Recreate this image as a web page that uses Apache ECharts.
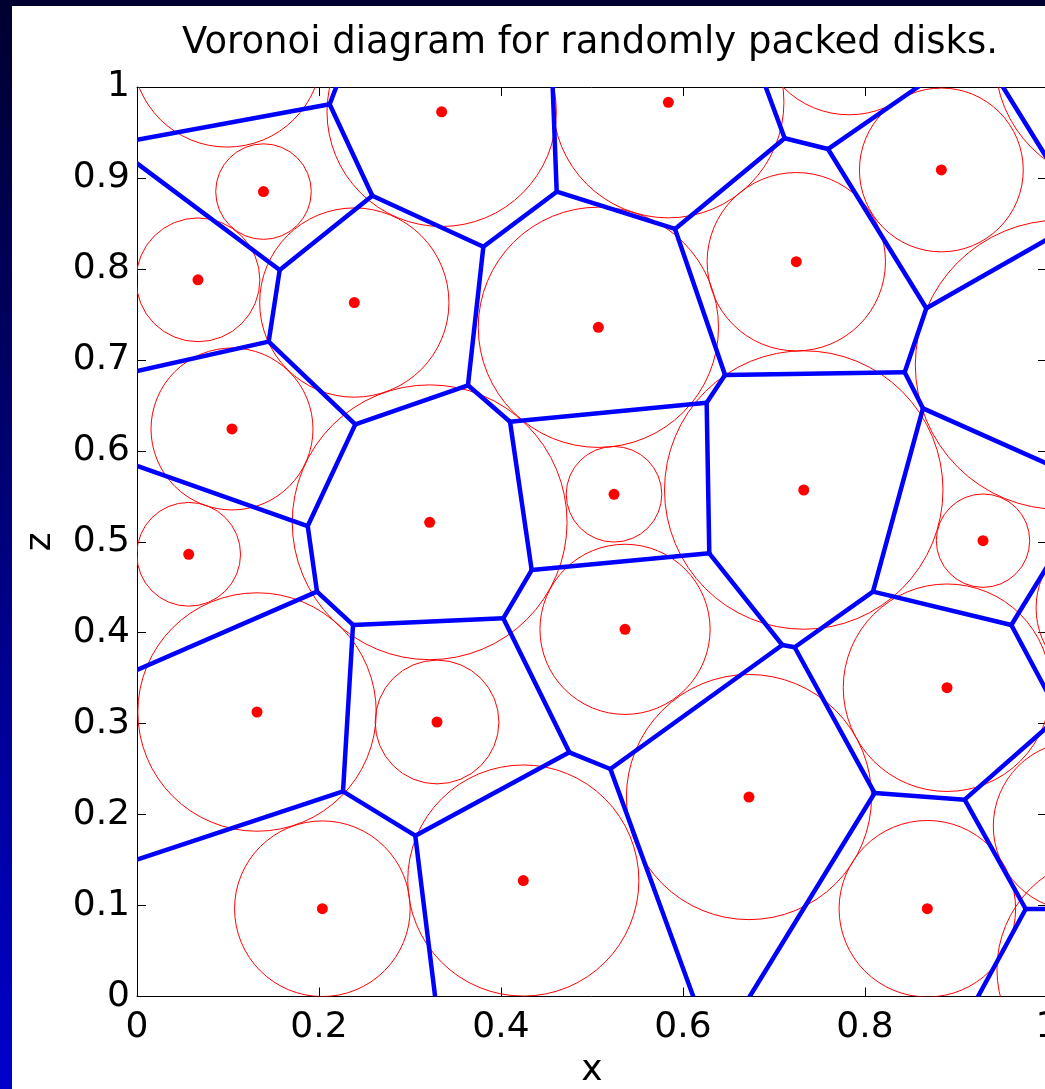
<!DOCTYPE html>
<html>
<head>
<meta charset="utf-8">
<title>Voronoi diagram for randomly packed disks.</title>
<script src="https://cdn.jsdelivr.net/npm/echarts@6/dist/echarts.min.js"></script>
<style>
html, body { margin: 0; padding: 0; }
#main { width: 1045px; height: 1089px; }
</style>
</head>
<body>
<div id="main"></div>
<script>
// disk centres (red dots) and their radii
var diskX = [0.3348, 0.5839, 0.139, 0.8839, 0.067, 0.2388, 0.507, 0.7245, 0.1044, 0.3216, 0.5242,
             0.7327, 0.0568, 0.9297, 0.5363, 0.1319, 0.3297, 0.8901, 0.6725, 0.2037, 0.4245, 0.8685];
var diskZ = [0.9727, 0.9832, 0.885, 0.9088, 0.788, 0.763, 0.7358, 0.8079, 0.624, 0.5214, 0.5522,
             0.5569, 0.4862, 0.5012, 0.4037, 0.3128, 0.3018, 0.3395, 0.2193, 0.0965, 0.1275, 0.0965];
var diskR = [0.126, 0.127, 0.0525, 0.09, 0.068, 0.104, 0.132, 0.098, 0.089, 0.151, 0.0525,
             0.153, 0.057, 0.0513, 0.0935, 0.131, 0.068, 0.114, 0.1347, 0.0965, 0.127, 0.097];

// circles whose centres fall outside the box
var outerX = [0.099, 0.7826, 1.0143, 1.076, 1.034, 1.08, 1.07];
var outerZ = [1.038, 1.0715, 0.6946, 0.4272, 0.1874, 1.03, 0.03];
var outerR = [0.104, 0.102, 0.159, 0.088, 0.093, 0.137, 0.125];

// voronoi edges: x1, z1, x2, z2
var edges = [
  [0, 0.942, 0.2117, 0.981],
  [0.2117, 0.981, 0.219, 1],
  [0.2117, 0.981, 0.2586, 0.8805],
  [0.2586, 0.8805, 0.3806, 0.8244],
  [0.2586, 0.8805, 0.1568, 0.7988],
  [0, 0.916, 0.1568, 0.7988],
  [0.1568, 0.7988, 0.1447, 0.72],
  [0, 0.6877, 0.1447, 0.72],
  [0.1447, 0.72, 0.2399, 0.6291],
  [0.2399, 0.6291, 0.3637, 0.672],
  [0.2399, 0.6291, 0.1876, 0.5173],
  [0, 0.5833, 0.1876, 0.5173],
  [0.1876, 0.5173, 0.1978, 0.4451],
  [0, 0.359, 0.1978, 0.4451],
  [0.1978, 0.4451, 0.2374, 0.4085],
  [0.2374, 0.4085, 0.4025, 0.4158],
  [0.2374, 0.4085, 0.2264, 0.2256],
  [0, 0.1504, 0.2264, 0.2256],
  [0.2264, 0.2256, 0.3058, 0.1768],
  [0.3058, 0.1768, 0.4751, 0.2685],
  [0.3058, 0.1768, 0.3276, 0],
  [0.4751, 0.2685, 0.4025, 0.4158],
  [0.4751, 0.2685, 0.5202, 0.2501],
  [0.5202, 0.2501, 0.7091, 0.3865],
  [0.5202, 0.2501, 0.6113, 0],
  [0.4025, 0.4158, 0.4337, 0.4689],
  [0.4337, 0.4689, 0.4099, 0.632],
  [0.4337, 0.4689, 0.6289, 0.4873],
  [0.4099, 0.632, 0.3637, 0.672],
  [0.4099, 0.632, 0.626, 0.6529],
  [0.3637, 0.672, 0.3806, 0.8244],
  [0.3806, 0.8244, 0.4612, 0.8849],
  [0.4612, 0.8849, 0.4568, 1],
  [0.4612, 0.8849, 0.5912, 0.8439],
  [0.5912, 0.8439, 0.7117, 0.9436],
  [0.5912, 0.8439, 0.6462, 0.6834],
  [0.6462, 0.6834, 0.626, 0.6529],
  [0.6462, 0.6834, 0.8436, 0.6863],
  [0.626, 0.6529, 0.6289, 0.4873],
  [0.6289, 0.4873, 0.7091, 0.3865],
  [0.7091, 0.3865, 0.7227, 0.384],
  [0.7227, 0.384, 0.8088, 0.4451],
  [0.7227, 0.384, 0.8106, 0.2237],
  [0.8088, 0.4451, 0.8637, 0.6467],
  [0.8088, 0.4451, 0.9608, 0.4085],
  [0.8637, 0.6467, 0.8436, 0.6863],
  [0.8637, 0.6467, 1, 0.5859],
  [0.8436, 0.6863, 0.8674, 0.7567],
  [0.8674, 0.7567, 0.7593, 0.9318],
  [0.8674, 0.7567, 1, 0.8323],
  [0.7593, 0.9318, 0.7117, 0.9436],
  [0.7593, 0.9318, 0.8582, 1],
  [0.7117, 0.9436, 0.6909, 1],
  [0.9516, 1, 1, 0.9218],
  [0.9608, 0.4085, 1, 0.4724],
  [0.9608, 0.4085, 1, 0.3352],
  [0.8106, 0.2237, 0.6733, 0],
  [0.8106, 0.2237, 0.9095, 0.2164],
  [0.9095, 0.2164, 1, 0.2961],
  [0.9095, 0.2164, 0.9766, 0.0962],
  [0.9766, 0.0962, 1, 0.0962],
  [0.9766, 0.0962, 0.9242, 0]
];

var font = 'DejaVu Sans';

var circles = [];
for (var i = 0; i < diskX.length; i++) circles.push([diskX[i], diskZ[i], diskR[i]]);
for (var j = 0; j < outerX.length; j++) circles.push([outerX[j], outerZ[j], outerR[j]]);
var dots = diskX.map(function (x, k) { return [x, diskZ[k]]; });

function labelFmt(v) {
  return String(Math.round(v * 10) / 10);
}

var myChart = echarts.init(document.getElementById('main'));

var option = {
  animation: false,
  backgroundColor: {
    type: 'linear', x: 0, y: 0, x2: 0, y2: 1,
    colorStops: [{ offset: 0, color: '#000030' }, { offset: 1, color: '#0000cc' }]
  },
  graphic: [{
    type: 'rect', z: -100, silent: true,
    left: 12, top: 6,
    shape: { width: 1045 - 12, height: 1089 - 6 },
    style: { fill: '#ffffff' }
  }],
  title: {
    text: 'Voronoi diagram for randomly packed disks.',
    left: 590, top: 25, textAlign: 'center', padding: 0,
    textStyle: { fontFamily: font, fontSize: 37, fontWeight: 'normal', color: '#000' }
  },
  grid: { left: 137, top: 87, width: 910, height: 909.5, outerBoundsMode: 'none', containLabel: false },
  xAxis: [{
    type: 'value', min: 0, max: 1, interval: 0.2, position: 'bottom',
    name: 'x', nameLocation: 'middle', nameGap: 56,
    nameTextStyle: { fontFamily: font, fontSize: 36, color: '#000' },
    axisLine: { onZero: false, lineStyle: { color: '#000', width: 1 } },
    axisTick: { inside: true, length: 9, lineStyle: { color: '#000' } },
    axisLabel: { fontFamily: font, fontSize: 36, color: '#000', margin: 13, formatter: labelFmt, showMaxLabel: true, showMinLabel: true },
    splitLine: { show: false }
  }, {
    type: 'value', min: 0, max: 1, interval: 0.2, position: 'top',
    axisLine: { onZero: false, lineStyle: { color: '#000', width: 1 } },
    axisTick: { inside: true, length: 9, lineStyle: { color: '#000' } },
    axisLabel: { show: false },
    splitLine: { show: false }
  }],
  yAxis: [{
    type: 'value', min: 0, max: 1, interval: 0.1, position: 'left',
    name: 'z', nameLocation: 'middle', nameGap: 78,
    nameTextStyle: { fontFamily: font, fontSize: 36, color: '#000' },
    axisLine: { onZero: false, lineStyle: { color: '#000', width: 1 } },
    axisTick: { inside: true, length: 9, lineStyle: { color: '#000' } },
    axisLabel: { fontFamily: font, fontSize: 36, color: '#000', margin: 7, formatter: labelFmt, showMaxLabel: true, showMinLabel: true },
    splitLine: { show: false }
  }, {
    type: 'value', min: 0, max: 1, interval: 0.1, position: 'right',
    axisLine: { onZero: false, lineStyle: { color: '#000', width: 1 } },
    axisTick: { inside: true, length: 9, lineStyle: { color: '#000' } },
    axisLabel: { show: false },
    splitLine: { show: false }
  }],
  series: [{
    // disks
    type: 'custom',
    clip: true,
    data: circles,
    encode: { x: 0, y: 1 },
    renderItem: function (params, api) {
      var c = api.coord([api.value(0), api.value(1)]);
      var r = api.size([api.value(2), api.value(2)])[0];
      return {
        type: 'circle',
        shape: { cx: c[0], cy: c[1], r: r },
        style: { fill: 'none', stroke: '#ff0000', lineWidth: 1 }
      };
    },
    z: 2
  }, {
    // voronoi cells
    type: 'custom',
    clip: true,
    data: edges,
    encode: { x: [0, 2], y: [1, 3] },
    renderItem: function (params, api) {
      var p1 = api.coord([api.value(0), api.value(1)]);
      var p2 = api.coord([api.value(2), api.value(3)]);
      return {
        type: 'line',
        shape: { x1: p1[0], y1: p1[1], x2: p2[0], y2: p2[1] },
        style: { stroke: '#0000ff', lineWidth: 4.5, lineCap: 'round' }
      };
    },
    z: 3
  }, {
    // centres
    type: 'scatter',
    data: dots,
    symbolSize: 11,
    itemStyle: { color: '#ff0000', opacity: 1 },
    z: 4
  }]
};

myChart.setOption(option, true);
window.onresize = function () {
  myChart.resize();
};
</script>
</body>
</html>
